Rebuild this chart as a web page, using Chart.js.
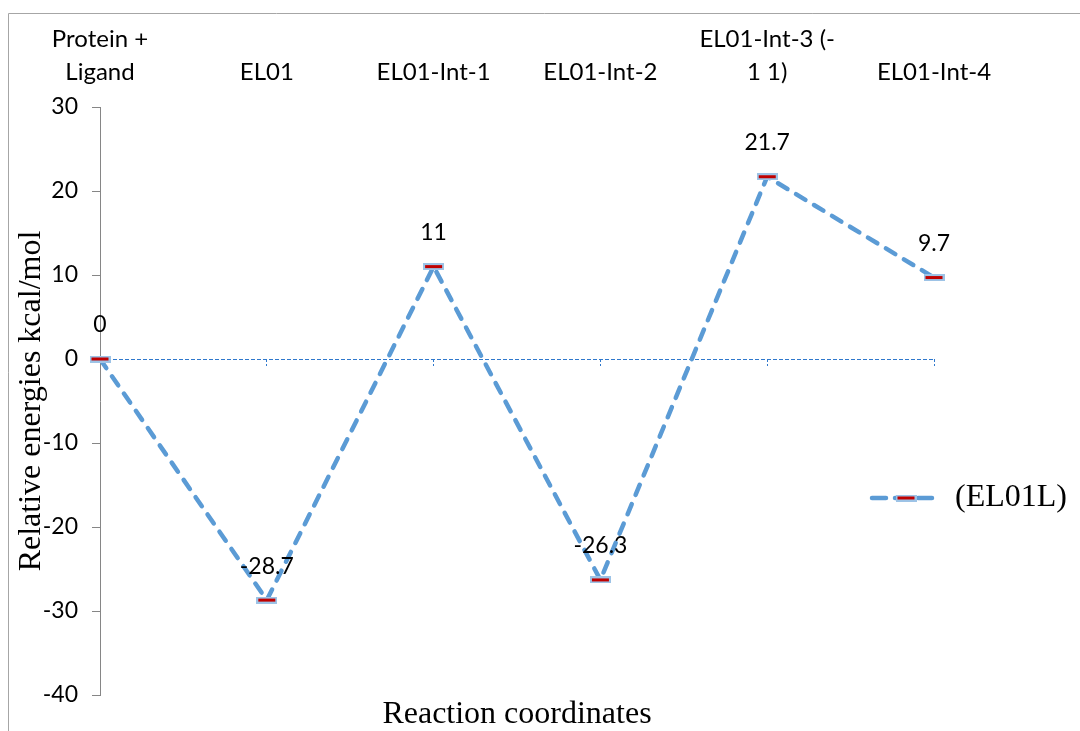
<!DOCTYPE html>
<html>
<head>
<meta charset="utf-8">
<script src="https://cdn.jsdelivr.net/npm/chart.js@4.4.1/dist/chart.umd.min.js"></script>
<style>
  html, body { margin: 0; padding: 0; background: #ffffff; }
  #wrap { width: 1080px; height: 731px; position: relative; }
</style>
</head>
<body>
<div id="wrap"><canvas id="c" width="1080" height="731"></canvas></div>
<script>
// Reaction steps along the pathway (multi-line labels as arrays)
const categories = [
  ["Protein +", "Ligand"],
  "EL01",
  "EL01-Int-1",
  "EL01-Int-2",
  ["EL01-Int-3 (-", "1 1)"],
  "EL01-Int-4"
];
// Relative energies in kcal/mol
const energies = [0, -28.7, 11, -26.3, 21.7, 9.7];
const seriesName = "(EL01L)";
const yMin = -40;
const yMax = 30;
const yStep = 10;

const LINE_BLUE = "#5B9BD5";
const ZERO_BLUE = "#2f78cc";
const AXIS_GREY = "#868686";
const LABEL_FONT = "Lato";
const TITLE_FONT = "Liberation Serif";

// Marker: short red bar with a pale blue rim
function makeMarker() {
  const m = document.createElement("canvas");
  m.width = 21; m.height = 7;
  const g = m.getContext("2d");
  g.fillStyle = "#9dc3e6";
  g.fillRect(0, 0, 21, 7);
  g.fillStyle = "#c00000";
  g.fillRect(2, 2, 17, 3);
  return m;
}
const marker = makeMarker();

// Outer frame of the chart
const framePlugin = {
  id: "frame",
  beforeDraw(chart) {
    const ctx = chart.ctx;
    ctx.save();
    ctx.strokeStyle = "#a6a6a6";
    ctx.lineWidth = 1;
    ctx.beginPath();
    ctx.moveTo(8.5, chart.height);
    ctx.lineTo(8.5, 13.5);
    ctx.lineTo(chart.width, 13.5);
    ctx.stroke();
    ctx.restore();
  }
};

// Value labels above each point
const valueLabels = {
  id: "valueLabels",
  afterDatasetsDraw(chart) {
    const ctx = chart.ctx;
    const meta = chart.getDatasetMeta(0);
    const ds = chart.data.datasets[0];
    ctx.save();
    ctx.font = "23px " + LABEL_FONT;
    ctx.fillStyle = "#000000";
    ctx.textAlign = "center";
    ctx.textBaseline = "middle";
    meta.data.forEach((pt, i) => {
      ctx.fillText(String(ds.data[i]), pt.x, pt.y - 34);
    });
    ctx.restore();
  }
};

// Legend entry at the right-hand side
const sideLegend = {
  id: "sideLegend",
  afterDraw(chart) {
    const ctx = chart.ctx;
    const ds = chart.data.datasets[0];
    const y = 498;
    ctx.save();
    ctx.strokeStyle = ds.borderColor;
    ctx.lineWidth = ds.borderWidth;
    ctx.lineCap = "round";
    ctx.setLineDash([14, 9]);
    ctx.beginPath();
    ctx.moveTo(872, y);
    ctx.lineTo(940, y);
    ctx.stroke();
    ctx.setLineDash([]);
    ctx.drawImage(marker, 906 - marker.width / 2, y - marker.height / 2);
    ctx.font = "32px " + TITLE_FONT;
    ctx.fillStyle = "#000000";
    ctx.textAlign = "left";
    ctx.textBaseline = "middle";
    ctx.fillText(ds.label, 955, y);
    ctx.restore();
  }
};

new Chart(document.getElementById("c"), {
  type: "line",
  data: {
    labels: categories,
    datasets: [{
      label: seriesName,
      data: energies,
      xAxisID: "x",
      yAxisID: "y",
      borderColor: LINE_BLUE,
      borderWidth: 4.5,
      borderDash: [11, 10],
      borderCapStyle: "round",
      tension: 0,
      fill: false,
      pointStyle: marker,
      pointRadius: 10,
      pointHoverRadius: 10
    }]
  },
  options: {
    responsive: false,
    animation: false,
    events: [],
    layout: { padding: { left: 8, top: 13, right: 146, bottom: 0 } },
    plugins: {
      legend: { display: false },
      tooltip: { enabled: false }
    },
    scales: {
      // category axis crossing at zero: only its small dashed tick marks
      x: {
        type: "category",
        position: { y: 0 },
        offset: false,
        grid: {
          display: true,
          drawOnChartArea: false,
          drawTicks: true,
          tickLength: 7,
          tickColor: ZERO_BLUE,
          tickWidth: 1,
          tickBorderDash: [3, 2]
        },
        border: { display: false },
        ticks: { display: false }
      },
      // category names along the top
      xTop: {
        type: "category",
        position: "top",
        offset: false,
        grid: { display: false },
        border: { display: false },
        ticks: {
          autoSkip: false,
          maxRotation: 0,
          minRotation: 0,
          padding: 10,
          color: "#000000",
          font: { family: LABEL_FONT, size: 24, lineHeight: 1.375 }
        },
        afterFit(s) { s.height = 94; }
      },
      // carries the horizontal axis title
      xBottom: {
        type: "category",
        position: "bottom",
        offset: false,
        grid: { display: false },
        border: { display: false },
        ticks: { display: false },
        title: {
          display: true,
          text: "Reaction coordinates",
          color: "#000000",
          padding: { top: 0, bottom: 0 },
          font: { family: TITLE_FONT, size: 32, lineHeight: 1 }
        },
        afterFit(s) { s.height = 36; }
      },
      y: {
        type: "linear",
        position: "left",
        min: yMin,
        max: yMax,
        grid: {
          display: true,
          drawOnChartArea: true,
          drawTicks: true,
          tickLength: 8,
          tickColor: AXIS_GREY,
          tickBorderDash: [],
          lineWidth: 1,
          // only the zero level is drawn across the plot, as a dashed blue rule
          color: (c) => (c.tick && c.tick.value === 0 ? ZERO_BLUE : "rgba(0,0,0,0)")
        },
        border: { display: true, color: AXIS_GREY, width: 1, dash: [4, 2] },
        ticks: {
          stepSize: yStep,
          padding: 14,
          color: "#000000",
          font: { family: LABEL_FONT, size: 23 }
        },
        title: {
          display: true,
          text: "Relative energies kcal/mol",
          color: "#000000",
          padding: { top: 8, bottom: 0 },
          font: { family: TITLE_FONT, size: 32, lineHeight: 1 }
        },
        afterFit(s) { s.width = 92; }
      }
    }
  },
  plugins: [framePlugin, valueLabels, sideLegend]
});
</script>
</body>
</html>
